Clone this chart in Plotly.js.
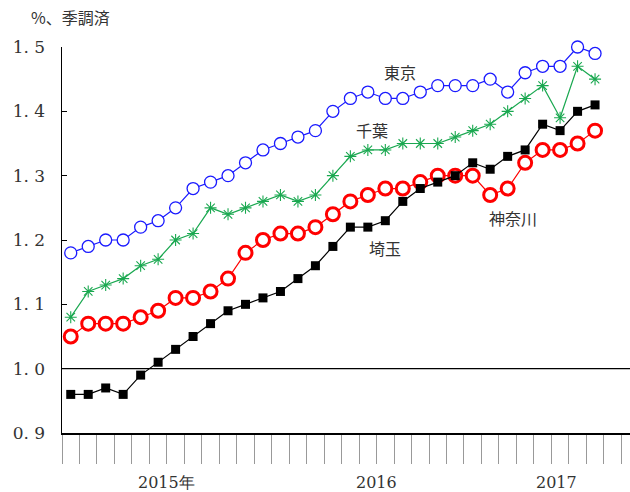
<!DOCTYPE html>
<html>
<head>
<meta charset="utf-8">
<script src="https://cdn.plot.ly/plotly-3.0.1.min.js"></script>
<style>
  body { margin: 0; background: #fff; }
  #plot1 { width: 630px; height: 492px; }
</style>
</head>
<body>
<div id="plot1"></div>
<script>
// monthly, Jan 2015 .. Jul 2017 (seasonally adjusted, %)
const months = [
  '2015-01','2015-02','2015-03','2015-04','2015-05','2015-06','2015-07','2015-08','2015-09','2015-10','2015-11','2015-12',
  '2016-01','2016-02','2016-03','2016-04','2016-05','2016-06','2016-07','2016-08','2016-09','2016-10','2016-11','2016-12',
  '2017-01','2017-02','2017-03','2017-04','2017-05','2017-06','2017-07',
];
const tokyo    = [1.18,1.19,1.20,1.20,1.22,1.23,1.25,1.28,1.29,1.30,1.32,1.34,1.35,1.36,1.37,1.40,1.42,1.43,1.42,1.42,1.43,1.44,1.44,1.44,1.45,1.43,1.46,1.47,1.47,1.50,1.49];
const chiba    = [1.08,1.12,1.13,1.14,1.16,1.17,1.20,1.21,1.25,1.24,1.25,1.26,1.27,1.26,1.27,1.30,1.33,1.34,1.34,1.35,1.35,1.35,1.36,1.37,1.38,1.40,1.42,1.44,1.39,1.47,1.45];
const kanagawa = [1.05,1.07,1.07,1.07,1.08,1.09,1.11,1.11,1.12,1.14,1.18,1.20,1.21,1.21,1.22,1.24,1.26,1.27,1.28,1.28,1.29,1.30,1.30,1.30,1.27,1.28,1.32,1.34,1.34,1.35,1.37];
const saitama  = [0.96,0.96,0.97,0.96,0.99,1.01,1.03,1.05,1.07,1.09,1.10,1.11,1.12,1.14,1.16,1.19,1.22,1.22,1.23,1.26,1.28,1.29,1.30,1.32,1.31,1.33,1.34,1.38,1.37,1.40,1.41];
const yTickVals = [0.9, 1.0, 1.1, 1.2, 1.3, 1.4, 1.5];
const yTickText = ['0. 9', '1. 0', '1. 1', '1. 2', '1. 3', '1. 4', '1. 5'];
const yearLabels = ['2015年', '2016', '2017'];
const baseLine = 1.0;

const serif = 'DejaVu Serif';
const jp = 'Noto Sans CJK JP';

// months sit in the middle of each month slot
const xs = months.map((m, i) => i + 0.5);

function lineTrace(y, name, color, symbol, size, mline, fill) {
  return {
    x: xs, y: y, name: name, type: 'scatter', mode: 'lines+markers',
    cliponaxis: false,
    line: { color: color, width: 1.2 },
    marker: { symbol: symbol, size: size, color: fill,
              line: { color: color, width: mline } },
    xaxis: 'x', yaxis: 'y',
  };
}

const dataTemp = [
  lineTrace(tokyo, '東京', '#1a1aff', 'circle', 12, 1.3, '#fff'),
  lineTrace(chiba, '千葉', '#1aa850', 'asterisk-open', 10, 1.1, '#1aa850'),
  lineTrace(kanagawa, '神奈川', '#ff0000', 'circle', 13, 3, '#fff'),
  lineTrace(saitama, '埼玉', '#000000', 'square', 9, 0, '#000'),
];

const xEnd = 32.5;

const layoutChart = {
  width: 630, height: 492,
  margin: { l: 62, r: 0, t: 47, b: 59 },
  paper_bgcolor: '#fff', plot_bgcolor: '#fff',
  showlegend: false,
  xaxis: {
    range: [0, xEnd], dtick: 1, tick0: 0,
    showgrid: false, zeroline: false,
    showline: true, linecolor: '#000', linewidth: 1.5,
    ticks: 'outside', ticklen: 29, tickcolor: '#999', tickwidth: 1,
    showticklabels: false,
  },
  xaxis2: {
    overlaying: 'x', anchor: 'y', side: 'bottom',
    range: [0, xEnd], tickvals: [0, 12, 24],
    showgrid: false, zeroline: false, showline: false,
    ticks: 'outside', ticklen: 62, tickcolor: '#999', tickwidth: 1,
    showticklabels: false,
  },
  yaxis: {
    range: [0.9, 1.5], tickvals: yTickVals, ticktext: yTickText,
    showgrid: false, zeroline: false,
    showline: true, linecolor: '#000', linewidth: 1.5,
    ticks: 'inside', ticklen: 5, tickcolor: '#000',
    ticklabelstandoff: 12,
    tickfont: { family: serif, size: 17, color: '#333' },
  },
  shapes: [
    { type: 'line', xref: 'paper', x0: 0, x1: 1, yref: 'y', y0: baseLine, y1: baseLine,
      line: { color: '#000', width: 1.2 } },
  ],
  annotations: [
    { text: '%、季調済', xref: 'paper', yref: 'paper', x: -0.058, y: 1.078,
      xanchor: 'left', yanchor: 'middle', showarrow: false,
      font: { family: jp, size: 16, color: '#333' } },
    { text: '東京', x: 19.35, y: 1.461, showarrow: false, font: { family: jp, size: 16, color: '#333' } },
    { text: '千葉', x: 17.75, y: 1.371, showarrow: false, font: { family: jp, size: 16, color: '#333' } },
    { text: '神奈川', x: 25.8, y: 1.234, showarrow: false, font: { family: jp, size: 16, color: '#333' } },
    { text: '埼玉', x: 18.5, y: 1.187, showarrow: false, font: { family: jp, size: 16, color: '#333' } },
  ],
};

const yearPos = [6, 18, 28.3];
yearLabels.forEach((t, i) => {
  layoutChart.annotations.push({
    text: t, xref: 'x', yref: 'paper', x: yearPos[i], y: -0.128,
    yanchor: 'middle', showarrow: false,
    font: { family: serif, size: 16, color: '#333' },
  });
});

Plotly.newPlot('plot1', dataTemp, layoutChart, { staticPlot: true, displayModeBar: false });
</script>
</body>
</html>
